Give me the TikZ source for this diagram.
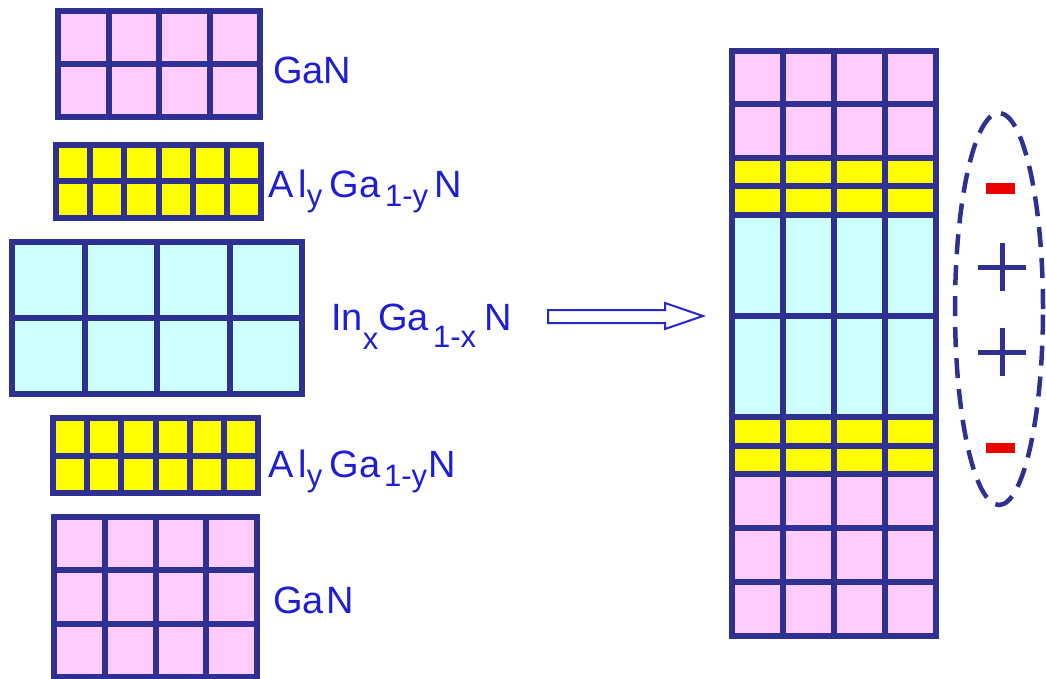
\documentclass[tikz,border=0pt]{standalone}
\usepackage{fontspec}
\setmainfont{Liberation Sans}
\definecolor{gridc}{RGB}{46,49,146}
\definecolor{txtc}{RGB}{30,30,210}
\definecolor{pinkc}{RGB}{255,204,255}
\definecolor{yelc}{RGB}{255,255,0}
\definecolor{cyanc}{RGB}{204,255,255}
\definecolor{redc}{RGB}{235,0,0}
\definecolor{arrc}{RGB}{40,40,200}
\newcommand\lsub[2]{\raisebox{-#1pt}{\fontsize{31}{31}\selectfont #2}}
% x0,y0,x1,y1,ncols,nrows,fill
\newcommand\gblock[7]{%
  \fill[#7] (#1,#2) rectangle (#3,#4);
  \foreach \i in {1,...,\numexpr#5-1\relax}{\draw[gline] ({#1+(#3-#1)*\i/#5},#2) -- ({#1+(#3-#1)*\i/#5},#4);}
  \foreach \j in {1,...,\numexpr#6-1\relax}{\draw[gline] (#1,{#2+(#4-#2)*\j/#6}) -- (#3,{#2+(#4-#2)*\j/#6});}
  \draw[gline] (#1,#2) rectangle (#3,#4);
}
\begin{document}
\begin{tikzpicture}[x=1pt,y=-1pt,
  gline/.style={gridc,line width=6pt},
  lab/.style={anchor=base west,inner sep=0pt,text=txtc},
  bigtext/.style={font=\fontsize{38}{38}\selectfont},
  plussign/.style={gridc,line width=5pt},
  minussign/.style={fill=redc},
  blockarrow/.style={draw=arrc,line width=2pt,fill=white,line join=miter}]
\useasboundingbox (0,0) rectangle (1046,679);
\fill[white] (0,0) rectangle (1046,679);

% left layers
\gblock{58}{11}{260}{117}{4}{2}{pinkc}
\gblock{56}{145}{261}{218}{6}{2}{yelc}
\gblock{12}{242}{302}{394}{4}{2}{cyanc}
\gblock{53}{418}{258}{493}{6}{2}{yelc}
\gblock{54}{517}{257}{677}{4}{3}{pinkc}

% labels
\node[lab,bigtext] (gan1) at (273,84) {GaN};
\node[lab,bigtext] (algan1) at (268,197) {A\kern5pt l\lsub{9}{y}\kern7pt Ga\kern5pt\lsub{9}{1-y}\kern6pt N};
\node[lab,bigtext] (ingan) at (331,330) {In\lsub{19}{x}Ga\kern4pt\lsub{17}{1-x}\kern8pt N};
\node[lab,bigtext] (algan2) at (268,477) {A\kern5pt l\lsub{9}{y}\kern7pt Ga\kern4pt\lsub{9}{1-y}\kern1pt N};
\node[lab,bigtext] (gan2) at (273,613) {Ga\kern3pt N};

% block arrow
\coordinate (arrtail) at (548,316);
\coordinate (arrtip) at (703,316);
\draw[blockarrow] (548,310) -- (665,310) -- (665,303) -- (arrtip) -- (665,329) -- (665,323) -- (548,323) -- cycle;

% right stack
\gblock{732}{51}{936}{158}{4}{2}{pinkc}
\gblock{732}{158}{936}{215}{4}{2}{yelc}
\gblock{732}{215}{936}{417}{4}{2}{cyanc}
\gblock{732}{417}{936}{474}{4}{2}{yelc}
\gblock{732}{474}{936}{636}{4}{3}{pinkc}

% dipole ellipse
\draw[gridc,line width=4.5pt,dash pattern=on 20pt off 11pt] (999,309) ellipse [x radius=44pt,y radius=196pt];
\fill[minussign] (986,183) rectangle (1015,194);
\fill[minussign] (986,443) rectangle (1015,453);
\draw[plussign] (978,267) -- (1026,267) (1002,243) -- (1002,291);
\draw[plussign] (978,352) -- (1026,352) (1002,328) -- (1002,376);
\end{tikzpicture}
\end{document}
